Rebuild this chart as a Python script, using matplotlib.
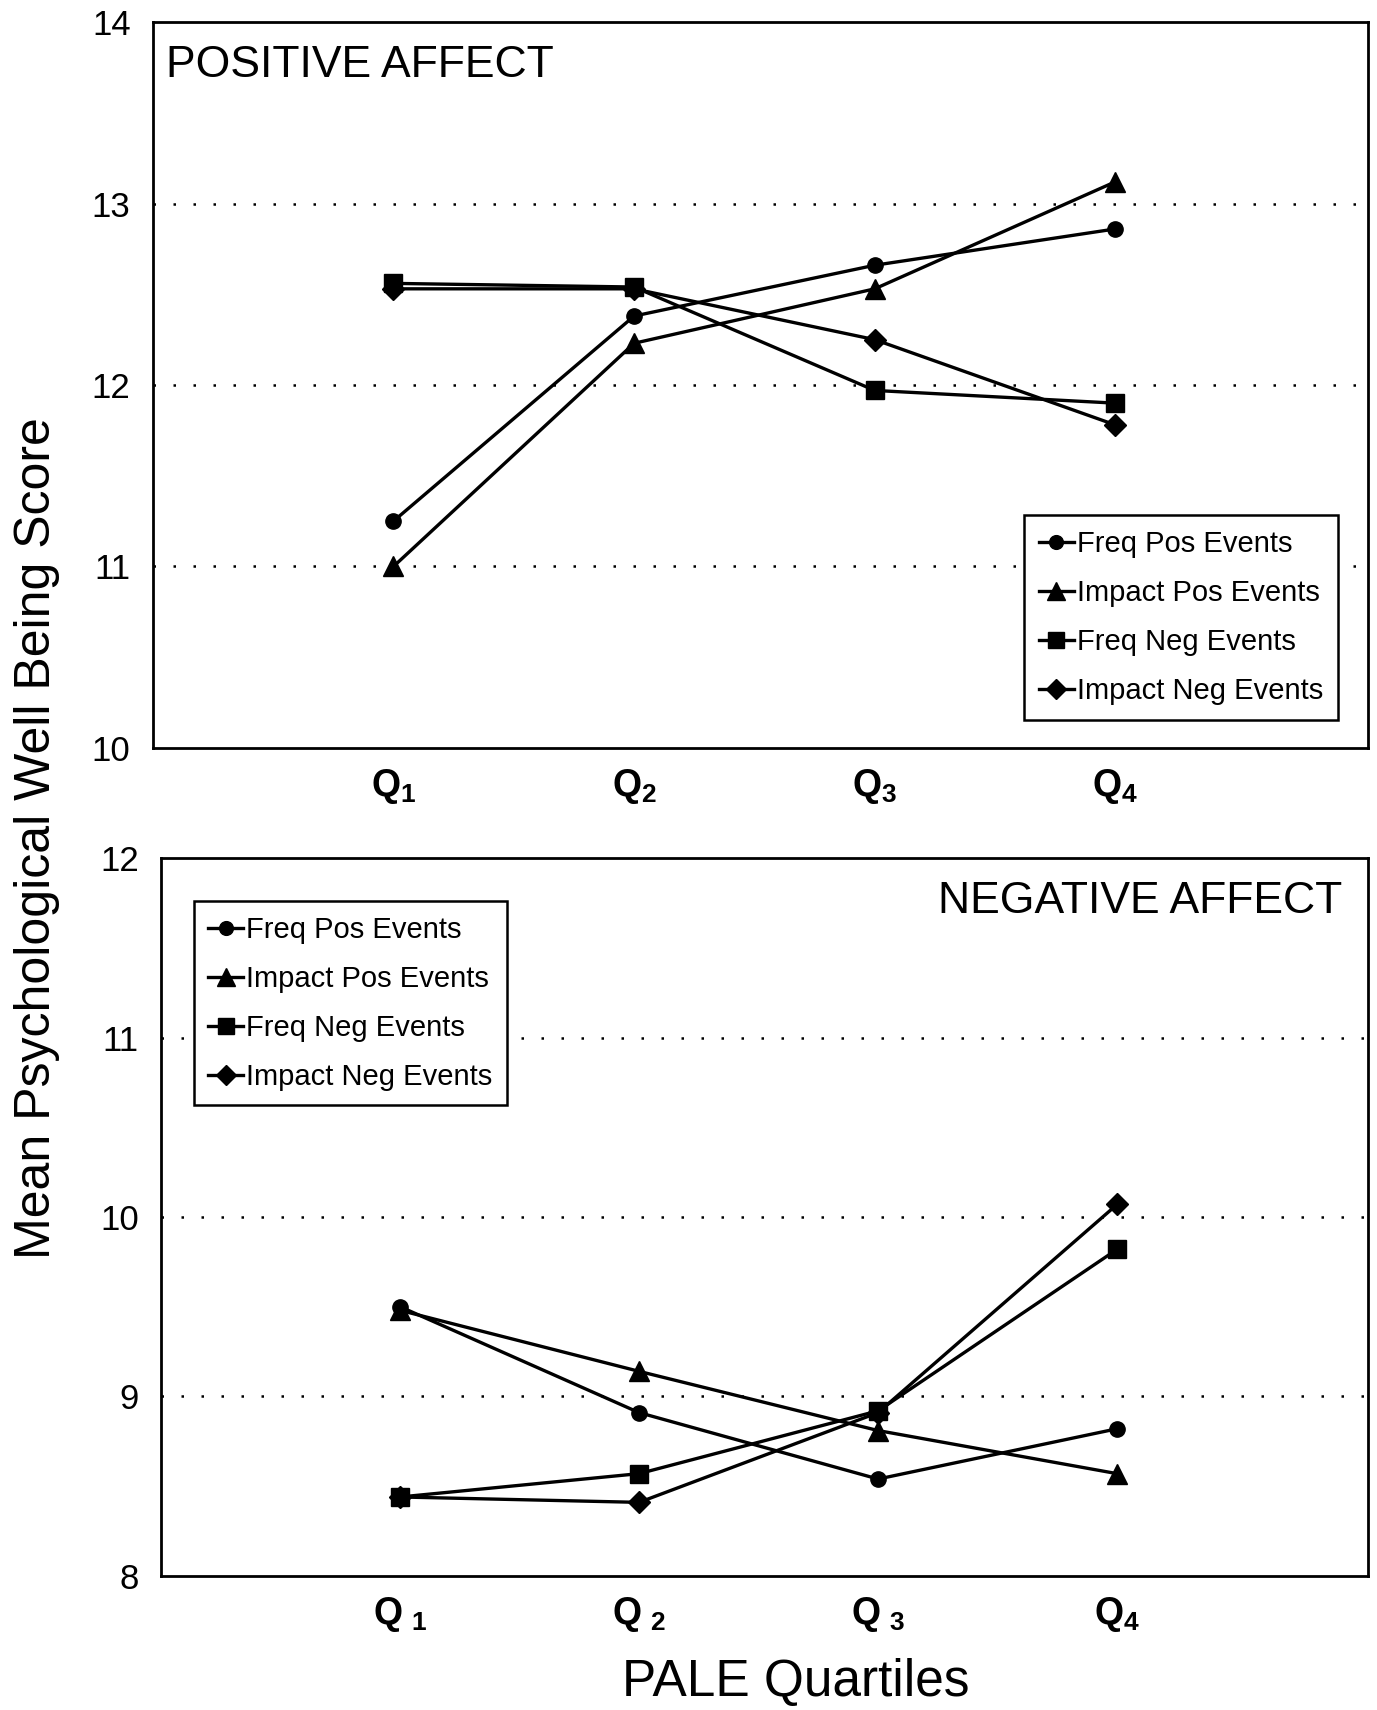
import matplotlib
matplotlib.use("Agg")
import matplotlib.pyplot as plt

plt.rcParams['font.family'] = ['Liberation Sans', 'DejaVu Sans']
plt.rcParams['mathtext.fontset'] = 'custom'
plt.rcParams['mathtext.rm'] = 'Liberation Sans'
plt.rcParams['mathtext.bf'] = 'Liberation Sans:bold'

quartiles = [1, 2, 3, 4]
series_names = ["Freq Pos Events", "Impact Pos Events", "Freq Neg Events", "Impact Neg Events"]

# Positive affect panel
pos_freq_pos = [11.25, 12.38, 12.66, 12.86]
pos_impact_pos = [11.00, 12.23, 12.53, 13.12]
pos_freq_neg = [12.56, 12.54, 11.97, 11.90]
pos_impact_neg = [12.53, 12.53, 12.25, 11.78]

# Negative affect panel
neg_freq_pos = [9.50, 8.91, 8.54, 8.82]
neg_impact_pos = [9.48, 9.14, 8.81, 8.57]
neg_freq_neg = [8.44, 8.57, 8.92, 9.82]
neg_impact_neg = [8.44, 8.41, 8.91, 10.07]

top_yticks = [10, 11, 12, 13, 14]
bot_yticks = [8, 9, 10, 11, 12]
top_xlabels = [r'$\mathbf{Q}_{\mathbf{1}}$', r'$\mathbf{Q}_{\mathbf{2}}$',
               r'$\mathbf{Q}_{\mathbf{3}}$', r'$\mathbf{Q}_{\mathbf{4}}$']
bot_xlabels = [r'$\mathbf{Q}_{\ \mathbf{1}}$', r'$\mathbf{Q}_{\ \mathbf{2}}$',
               r'$\mathbf{Q}_{\ \mathbf{3}}$', r'$\mathbf{Q}_{\mathbf{4}}$']

markers = ['o', '^', 's', 'D']
msizes = [11, 14, 13, 11]

fig = plt.figure(figsize=(13.77, 17.10), dpi=100)
ax1 = fig.add_axes([0.111, 0.5626, 0.8825, 0.4245])
ax2 = fig.add_axes([0.117, 0.0784, 0.8765, 0.4198])


def style(ax, ylim, yticks, grid_vals, xlabels):
    ax.set_xlim(0, 5.05)
    ax.set_ylim(*ylim)
    ax.set_yticks(yticks)
    ax.set_yticklabels([str(v) for v in yticks], fontsize=25)
    ax.set_xticks(quartiles)
    ax.set_xticklabels(xlabels, fontsize=27)
    ax.tick_params(axis='both', length=0)
    ax.tick_params(axis='y', pad=16)
    ax.tick_params(axis='x', pad=14)
    for s in ax.spines.values():
        s.set_linewidth(2.0)
        s.set_color('black')
    for g in grid_vals:
        ax.axhline(g, color='black', linestyle=(0, (1, 7)), linewidth=1.8, zorder=0)


def draw(ax, data):
    handles = []
    for vals, m, ms, name in zip(data, markers, msizes, series_names):
        h, = ax.plot(quartiles, vals, color='black', marker=m, markersize=ms,
                     linewidth=2.4, label=name, clip_on=False)
        handles.append(h)
    return handles


style(ax1, (10, 14), top_yticks, [11, 12, 13], top_xlabels)
style(ax2, (8, 12), bot_yticks, [9, 10, 11], bot_xlabels)

draw(ax1, [pos_freq_pos, pos_impact_pos, pos_freq_neg, pos_impact_neg])
draw(ax2, [neg_freq_pos, neg_impact_pos, neg_freq_neg, neg_impact_neg])

leg_kw = dict(fontsize=21, frameon=True, fancybox=False, framealpha=1,
              edgecolor='black', handlelength=1.2, handletextpad=0.1,
              borderpad=0.5, labelspacing=0.72, borderaxespad=0, markerscale=0.9)
l1 = ax1.legend(loc='lower right', bbox_to_anchor=(0.975, 0.039), **leg_kw)
l2 = ax2.legend(loc='upper left', bbox_to_anchor=(0.027, 0.94), **leg_kw)
for l in (l1, l2):
    l.get_frame().set_linewidth(1.8)

ax1.text(0.011, 0.94, "POSITIVE AFFECT", transform=ax1.transAxes,
         fontsize=32, ha='left', va='center')
ax2.text(0.979, 0.94, "NEGATIVE AFFECT", transform=ax2.transAxes,
         fontsize=32, ha='right', va='center')

fig.text(0.027, 0.51, "Mean Psychological Well Being Score", rotation=90,
         fontsize=36, ha='center', va='center')
fig.text(0.578, 0.002, "PALE Quartiles", fontsize=37, ha='center', va='bottom')

fig.savefig("out.png", dpi=100)
